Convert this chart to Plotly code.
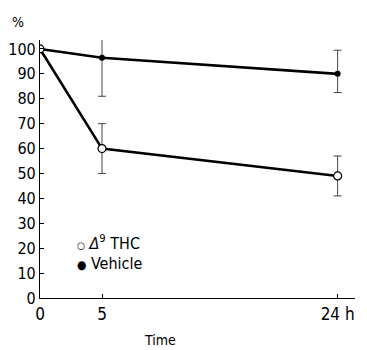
import plotly.graph_objects as go

time_h = [0, 5, 24]
thc = [100, 60, 49]
thc_err_plus = [0, 10, 8]
thc_err_minus = [0, 10, 8]
vehicle = [100, 96.5, 90]
veh_err_plus = [0, 13.5, 9.5]
veh_err_minus = [0, 15.5, 7.5]
x_ticks = [0, 5, 24]
x_ticklabels = ["0", "5", "24 h"]
y_ticks = list(range(0, 101, 10))

FONT = "DejaVu Sans Condensed, Liberation Sans Narrow, Arial Narrow, sans-serif"

fig = go.Figure()
fig.add_trace(go.Scatter(
    x=time_h, y=vehicle, mode="lines+markers",
    line=dict(color="black", width=2.6),
    marker=dict(symbol="circle", size=6, color="black"),
    error_y=dict(type="data", symmetric=False, array=veh_err_plus, arrayminus=veh_err_minus,
                 color="#444", thickness=1, width=4),
    showlegend=False))
fig.add_trace(go.Scatter(
    x=time_h, y=thc, mode="lines+markers",
    line=dict(color="black", width=2.6),
    marker=dict(symbol="circle", size=8, color="white", line=dict(color="black", width=1.2)),
    error_y=dict(type="data", symmetric=False, array=thc_err_plus, arrayminus=thc_err_minus,
                 color="#444", thickness=1, width=4),
    showlegend=False))

fig.update_layout(
    width=359, height=342,
    margin=dict(l=32, r=12, t=32, b=52),
    paper_bgcolor="white", plot_bgcolor="white",
    font=dict(family=FONT, color="black", size=16),
    xaxis=dict(range=[0, 25.4], tickvals=x_ticks, ticktext=x_ticklabels, automargin=False,
               showgrid=False, zeroline=False, showline=True, linecolor="black", linewidth=1.2,
               ticks="inside", ticklen=4, tickcolor="black", tickfont=dict(size=17)),
    yaxis=dict(range=[0, 103.6], tickvals=y_ticks, automargin=False,
               showgrid=False, zeroline=False, showline=True, linecolor="black", linewidth=1.2,
               ticks="inside", ticklen=4, tickcolor="black", ticklabelstandoff=0),
    annotations=[
        dict(x=-0.07, y=1.03, xref="paper", yref="paper", text="%", showarrow=False,
             font=dict(size=14), xanchor="center", yanchor="bottom"),
        dict(x=0.11, y=0.215, xref="paper", yref="paper", xanchor="left", yanchor="middle",
             text="<span style='font-size:10px'>○</span> <i>Δ</i><sup>9</sup> THC", showarrow=False,
             font=dict(size=16)),
        dict(x=0.11, y=0.135, xref="paper", yref="paper", xanchor="left", yanchor="middle",
             text="<span style='font-size:12px'>●</span> Vehicle", showarrow=False,
             font=dict(size=16)),
        dict(x=0.38, y=-0.163, xref="paper", yref="paper", xanchor="center", yanchor="middle",
             text="Time", showarrow=False, font=dict(size=14)),
    ],
)
fig.write_html("out.html")
